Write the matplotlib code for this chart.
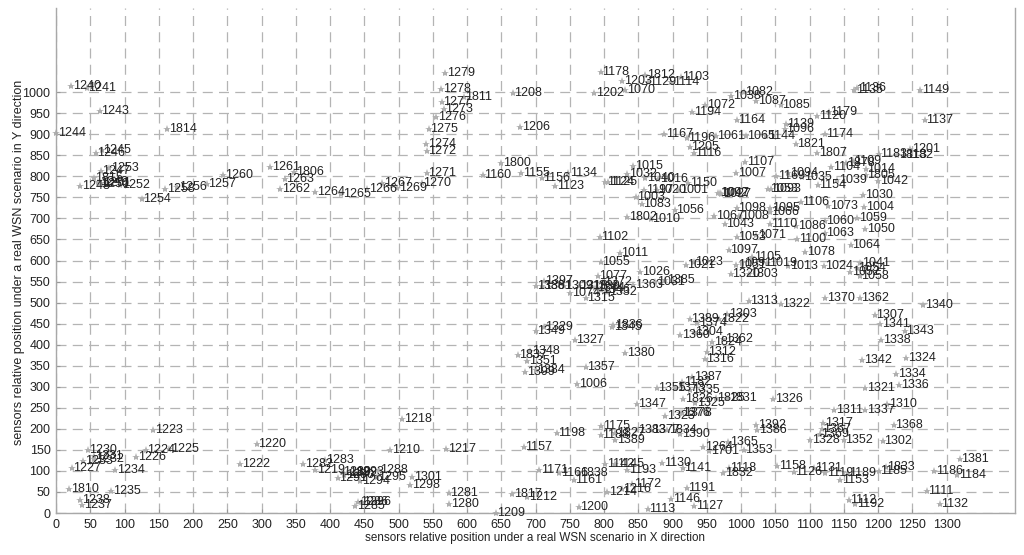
from matplotlib import pyplot as plt

plt.rcParams['font.family'] = ['Liberation Sans', 'DejaVu Sans']

x_ticks = list(range(0, 1350, 50))
y_ticks = list(range(0, 1050, 50))

node_ids = [
    1240, 1241, 1243, 1244, 1814, 1245, 1246, 1253, 1247, 1248, 1815, 1249, 1250, 1251, 1252, 1254, 1258, 1256, 1257, 1260,
    1261, 1806, 1263, 1262, 1264, 1265, 1266, 1267, 1269, 1270, 1271, 1272, 1274, 1275, 1276, 1273, 1277, 1811, 1278, 1279,
    1208, 1206, 1800, 1160, 1155, 1156, 1134, 1123, 1202, 1178, 1203, 1070, 1124, 1125, 1015, 1032, 1040, 1812, 1129, 1114,
    1103, 1072, 1194, 1038, 1082, 1087, 1085, 1164, 1167, 1196, 1061, 1205, 1116, 1065, 1144, 1139, 1096, 1821, 1107, 1007,
    1169, 1016, 1150, 1001, 1197, 1020, 1003, 1083, 1056, 1092, 1047, 1027, 1053, 1093, 1098, 1095, 1066, 1067, 1008, 1802,
    1010, 1136, 1135, 1149, 1179, 1120, 1137, 1174, 1807, 1183, 1813, 1182, 1201, 1035, 1094, 1154, 1039, 1104, 1878, 1109,
    1014, 1805, 1042, 1030, 1004, 1106, 1073, 1060, 1059, 1086, 1110, 1050, 1063, 1071, 1100, 1064, 1078, 1041, 1024, 1019,
    1013, 1105, 1051, 1091, 1320, 1803, 1052, 1054, 1058, 1370, 1362, 1340, 1313, 1322, 1307, 1341, 1343, 1338, 1342, 1324,
    1334, 1336, 1321, 1326, 1310, 1311, 1337, 1317, 1368, 1392, 1386, 1367, 1369, 1328, 1352, 1302, 1381, 1158, 1126, 1131,
    1119, 1189, 1153, 1833, 1185, 1186, 1184, 1111, 1112, 1192, 1132, 1175, 1198, 1188, 1827, 1389, 1383, 1377, 1834, 1390,
    1264, 1701, 1365, 1353, 1157, 1171, 1166, 1838, 1161, 1142, 1145, 1193, 1130, 1141, 1118, 1832, 1172, 1216, 1214, 1191,
    1146, 1127, 1113, 1200, 1817, 1212, 1209, 1218, 1220, 1222, 1210, 1217, 1283, 1282, 1219, 1289, 1288, 1293, 1295, 1294,
    1291, 1290, 1292, 1296, 1286, 1285, 1301, 1298, 1281, 1280, 1223, 1225, 1224, 1226, 1230, 1231, 1232, 1233, 1227, 1234,
    1810, 1235, 1238, 1237, 1348, 1837, 1351, 1384, 1399, 1327, 1380, 1357, 1006, 1316, 1312, 1824, 1362, 1360, 1304, 1387,
    1182, 1355, 1373, 1335, 1825, 1831, 1826, 1325, 1347, 1323, 1376, 1378, 1102, 1011, 1055, 1023, 1021, 1097, 1043, 1053,
    1026, 1385, 1031, 1363, 1077, 1372, 1332, 1397, 1388, 1361, 1309, 1318, 1074, 1315, 1339, 1344, 1346, 1303, 1822, 1389,
    1374, 1329, 1349, 1836, 1345,
]
node_x = [
    22, 45, 64, 0, 162, 67, 58, 78, 65, 35, 55, 62, 64, 66, 94, 125, 159, 177, 220, 244,
    313, 348, 334, 327, 378, 416, 454, 476, 498, 534, 541, 541, 540, 544, 555, 566, 563, 595, 562, 568,
    667, 678, 650, 623, 679, 709, 748, 729, 786, 795, 827, 831, 802, 806, 843, 834, 860, 860, 864, 898,
    912, 948, 929, 986, 1004, 1022, 1058, 994, 888, 921, 963, 925, 931, 1007, 1037, 1065, 1064, 1080, 1006, 993,
    1051, 879, 923, 908, 859, 877, 846, 855, 903, 967, 969, 971, 1040, 1044, 994, 1043, 1042, 961, 997, 834,
    868, 1170, 1165, 1262, 1128, 1111, 1268, 1122, 1111, 1201, 1228, 1238, 1247, 1089, 1069, 1112, 1140, 1132, 1153, 1163,
    1182, 1182, 1200, 1178, 1180, 1087, 1127, 1122, 1170, 1081, 1042, 1181, 1122, 1022, 1082, 1160, 1094, 1174, 1121, 1038,
    1069, 1016, 993, 1002, 985, 1011, 1159, 1169, 1173, 1123, 1173, 1266, 1011, 1058, 1195, 1203, 1239, 1205, 1177, 1241,
    1227, 1231, 1181, 1047, 1213, 1136, 1181, 1120, 1223, 1022, 1024, 1118, 1115, 1101, 1150, 1207, 1319, 1053, 1077, 1106,
    1123, 1156, 1145, 1211, 1201, 1282, 1316, 1271, 1157, 1167, 1290, 796, 731, 795, 816, 816, 848, 868, 892, 911,
    945, 954, 981, 1004, 683, 705, 735, 763, 756, 802, 816, 834, 885, 915, 982, 974, 841, 826, 805, 921,
    898, 932, 864, 763, 666, 688, 642, 505, 293, 269, 488, 570, 392, 361, 378, 417, 471, 436, 468, 444,
    411, 421, 425, 446, 441, 437, 520, 517, 573, 574, 142, 165, 131, 117, 46, 55, 56, 40, 23, 86,
    19, 81, 35, 38, 692, 674, 688, 700, 685, 757, 831, 773, 761, 947, 950, 958, 974, 911, 931, 929,
    914, 877, 904, 926, 963, 980, 916, 933, 848, 889, 911, 914, 794, 823, 795, 931, 919, 982, 976, 994,
    853, 889, 875, 843, 791, 798, 805, 712, 700, 710, 741, 763, 751, 773, 780, 787, 795, 980, 968, 925,
    936, 712, 700, 813, 812,
]
node_y = [
    1015, 1011, 956, 903, 912, 862, 856, 820, 813, 778, 795, 787, 782, 784, 779, 746, 769, 774, 782, 803,
    821, 811, 794, 771, 763, 758, 771, 783, 773, 785, 809, 860, 876, 912, 940, 959, 976, 988, 1007, 1046,
    997, 917, 832, 803, 807, 795, 807, 777, 997, 1047, 1027, 1005, 786, 786, 825, 805, 795, 1041, 1025, 1023,
    1037, 969, 952, 992, 1001, 978, 969, 935, 901, 890, 897, 870, 856, 897, 897, 924, 912, 878, 833, 807,
    801, 794, 783, 767, 767, 767, 750, 734, 720, 761, 760, 759, 769, 769, 725, 725, 716, 706, 706, 703,
    698, 1009, 1005, 1005, 954, 943, 935, 901, 855, 853, 850, 850, 864, 799, 808, 779, 791, 823, 832, 837,
    817, 803, 790, 756, 726, 740, 729, 694, 700, 682, 686, 674, 666, 660, 651, 637, 621, 593, 587, 595,
    587, 609, 589, 593, 569, 569, 572, 582, 564, 512, 510, 494, 503, 496, 470, 449, 433, 412, 363, 369,
    331, 305, 297, 272, 260, 244, 244, 215, 210, 208, 197, 200, 187, 173, 173, 170, 129, 112, 98, 107,
    94, 94, 78, 109, 100, 100, 90, 52, 32, 21, 21, 207, 190, 185, 189, 173, 197, 197, 197, 187,
    156, 147, 169, 149, 157, 102, 96, 96, 78, 117, 117, 103, 120, 107, 106, 96, 70, 58, 49, 59,
    34, 17, 9, 14, 46, 37, 0, 224, 163, 117, 149, 153, 127, 116, 103, 97, 102, 97, 86, 75,
    83, 90, 94, 26, 25, 16, 86, 66, 48, 21, 197, 151, 149, 133, 149, 136, 129, 124, 106, 102,
    56, 52, 30, 18, 385, 375, 361, 339, 334, 411, 380, 347, 306, 366, 383, 407, 413, 423, 429, 323,
    312, 298, 298, 293, 273, 273, 270, 262, 258, 230, 238, 237, 655, 619, 597, 597, 589, 625, 687, 655,
    572, 553, 549, 541, 564, 549, 526, 552, 539, 539, 539, 539, 522, 512, 540, 535, 530, 474, 462, 462,
    452, 442, 433, 446, 441,
]

fig = plt.figure(figsize=(10.24, 5.55), dpi=100)
ax = fig.add_axes([56 / 1024, 1 - 513 / 555, 959 / 1024, 505 / 555])

ax.plot(node_x, node_y, linestyle='none', marker='*', markersize=6, color='#b0b0b0',
        markeredgewidth=0, clip_on=False, zorder=2)
for name, x, y in zip(node_ids, node_x, node_y):
    ax.annotate(str(name), (x, y), xytext=(1.2, 0), textcoords='offset points',
                fontsize=9, color='#222222', va='center', ha='left', zorder=3)

ax.set_xlim(0, 1400)
ax.set_ylim(0, 1200)
ax.set_xticks(x_ticks)
ax.set_yticks(y_ticks)
ax.tick_params(labelsize=9, labelcolor='#222222', length=3, width=0.8, direction='in', pad=4, color='#999999')
ax.grid(True, color='#b4b4b4', linewidth=0.9, linestyle=(0, (8, 5)))
ax.set_axisbelow(True)
for side in ax.spines:
    ax.spines[side].set_color('#a8a8a8')
    ax.spines[side].set_linewidth(1.0)
ax.spines['top'].set_visible(False)

fig.text(535 / 1024, 1 - 538 / 555, 'sensors relative position under a real WSN scenario in X direction',
         fontsize=8.4, color='#222222', ha='center', va='center')
fig.text(19 / 1024, 1 - 262 / 555, 'sensors relative position under a real WSN scenario in Y direction',
         fontsize=9, color='#222222', ha='center', va='center', rotation=90)

fig.savefig('out.png', dpi=100)
